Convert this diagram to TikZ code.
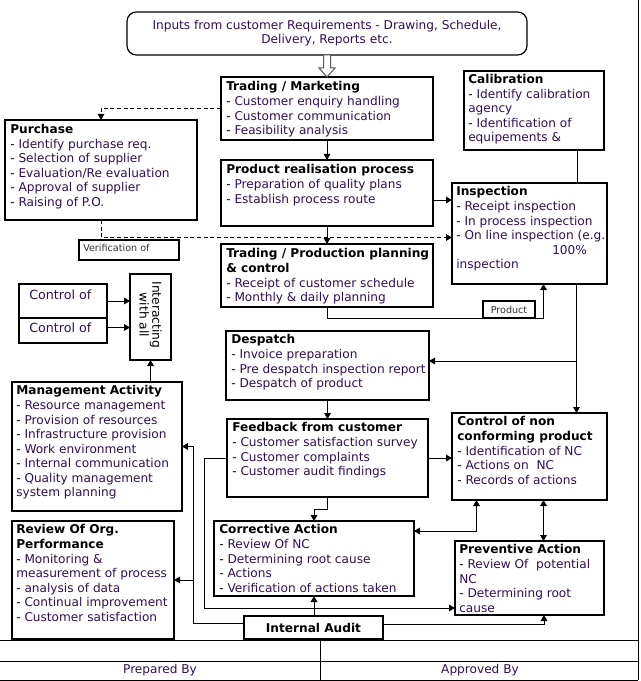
\documentclass[tikz,border=0pt]{standalone}
\usepackage{fontspec}
\setmainfont{DejaVu Sans}
\usetikzlibrary{arrows.meta,fit,calc}
\definecolor{bodytxt}{RGB}{48,16,80}
\newcommand\li[1]{- \textcolor{bodytxt}{#1}}
\newcommand\ct[1]{\textcolor{bodytxt}{#1}}
\newcommand\ttl[1]{\textbf{#1}}
\begin{document}
\begin{tikzpicture}[x=0.75pt,y=-0.75pt,
  bx/.style={draw=black,line width=0.9pt,inner sep=0pt,outer sep=0pt},
  txt/.style={inner sep=0pt,anchor=north west,align=left,font=\fontsize{9.1}{10.9}\selectfont},
  small/.style={inner sep=0pt,font=\fontsize{7.2}{8.5}\selectfont,text=black!80},
  tip/.style={-{Triangle[length=4.5pt,width=5pt]}},
  con/.style={line width=0.75pt,tip},
  dcon/.style={line width=0.75pt,{Triangle[length=4.5pt,width=5pt]}-{Triangle[length=4.5pt,width=5pt]}},
  ln/.style={line width=0.75pt},
  dsh/.style={line width=0.75pt,dash pattern=on 3pt off 2pt},
]
\useasboundingbox (0,0) rectangle (641,681);

% ---------- boxes ----------
\node[bx,rounded corners=7pt,fit={(127,12) (527,55)}] (inp) {};
\node[inner sep=0pt,align=center,text=bodytxt,font=\fontsize{9.1}{10.5}\selectfont] (inpt) at (inp.center)
  {Inputs from customer Requirements - Drawing, Schedule,\\Delivery, Reports etc.};

\node[bx,fit={(221,77) (433,140)}] (tm) {};
\node[txt] (tmt) at ($(tm.north west)+(5,4.5)$)
  {\ttl{Trading / Marketing}\\\li{Customer enquiry handling}\\\li{Customer communication}\\\li{Feasibility analysis}};

\node[bx,fit={(221,160) (433,226)}] (pr) {};
\node[txt] (prt) at ($(pr.north west)+(5,4.5)$)
  {\ttl{Product realisation process}\\\li{Preparation of quality plans}\\\li{Establish process route}};

\node[bx,fit={(221,244) (433,307)}] (tppc) {};
\node[txt] (tppct) at ($(tppc.north west)+(5,4.5)$)
  {\ttl{Trading / Production planning}\\\ttl{\& control}\\\li{Receipt of customer schedule}\\\li{Monthly \& daily planning}};

\node[bx,fit={(464,71) (604,150)}] (cal) {};
\node[txt] (calt) at ($(cal.north west)+(4,3)$)
  {\ttl{Calibration}\\\li{Identify calibration}\\\ct{agency}\\\li{Identification of}\\\ct{equipements \&}};

\node[bx,fit={(452,183) (607,284)}] (insp) {};
\node[txt] (inspt) at ($(insp.north west)+(4,3.5)$)
  {\ttl{Inspection}\\\li{Receipt inspection}\\\li{In process inspection}\\\li{On line inspection (e.g.}\\\hspace*{72pt}\ct{100\%}\\\ct{inspection}};

\node[bx,fit={(5,120) (197,220)}] (pur) {};
\node[txt] (purt) at ($(pur.north west)+(5,4)$)
  {\ttl{Purchase}\\\li{Identify purchase req.}\\\li{Selection of supplier}\\\li{Evaluation/Re evaluation}\\\li{Approval of supplier}\\\li{Raising of P.O.}};

\node[bx,fit={(79,240) (179,260)}] (ver) {};
\node[small,anchor=base west] (vert) at ($(ver.north west)+(4,11)$) {Verification of};

\node[bx,fit={(483,301) (535,318)}] (prod) {};
\node[small] (prodt) at (prod.center) {Product};

\node[bx,fit={(19,284) (107,318)}] (c1) {};
\node[bx,fit={(19,318) (107,343)}] (c2) {};
\node[inner sep=0pt,anchor=base west,text=bodytxt,font=\fontsize{9.5}{11}\selectfont] (c1t) at ($(c1.north west)+(10,15)$) {Control of};
\node[inner sep=0pt,anchor=base west,text=bodytxt,font=\fontsize{9.5}{11}\selectfont] (c2t) at ($(c2.north west)+(10,14.5)$) {Control of};

\node[bx,fit={(130,274) (171,360)}] (intr) {};
\node[inner sep=0pt,rotate=-90,align=center,font=\fontsize{9.2}{9.5}\selectfont] (intrt) at (150.5,315) {Interacting\\with all};

\node[bx,fit={(226,331) (429,400)}] (desp) {};
\node[txt] (despt) at ($(desp.north west)+(5,3.5)$)
  {\ttl{Despatch}\\\li{Invoice preparation}\\\li{Pre despatch inspection report}\\\li{Despatch of product}};

\node[bx,fit={(227,419) (428,497)}] (fb) {};
\node[txt] (fbt) at ($(fb.north west)+(5,3.5)$)
  {\ttl{Feedback from customer}\\\li{Customer satisfaction survey}\\\li{Customer complaints}\\\li{Customer audit findings}};

\node[bx,fit={(452,413) (607,500)}] (cnc) {};
\node[txt] (cnct) at ($(cnc.north west)+(5,3.5)$)
  {\ttl{Control of non}\\\ttl{conforming product}\\\li{Identification of NC}\\\li{Actions on\ \ NC}\\\li{Records of actions}};

\node[bx,fit={(12,382) (182,511)}] (mg) {};
\node[txt] (mgt) at ($(mg.north west)+(4,3.5)$)
  {\ttl{Management Activity}\\\li{Resource management}\\\li{Provision of resources}\\\li{Infrastructure provision}\\\li{Work environment}\\\li{Internal communication}\\\li{Quality management}\\\ct{system planning}};

\node[bx,fit={(12,521) (174,639)}] (rv) {};
\node[txt] (rvt) at ($(rv.north west)+(4,3.5)$)
  {\ttl{Review Of Org.}\\\ttl{Performance}\\\li{Monitoring \&}\\\ct{measurement of process}\\\li{analysis of data}\\\li{Continual improvement}\\\li{Customer satisfaction}};

\node[bx,fit={(214,521) (414,596)}] (ca) {};
\node[txt] (cat) at ($(ca.north west)+(5,3.5)$)
  {\ttl{Corrective Action}\\\li{Review Of NC}\\\li{Determining root cause}\\\li{Actions}\\\li{Verification of actions taken}};

\node[bx,fit={(455,541) (604,615)}] (pa) {};
\node[txt] (pat) at ($(pa.north west)+(4,3.5)$)
  {\ttl{Preventive Action}\\\li{Review Of\ \ potential}\\\ct{NC}\\\li{Determining root}\\\ct{cause}};

\node[bx,fit={(244,616) (383,639)}] (ia) {};
\node[inner sep=0pt,font=\fontsize{9.1}{10.9}\selectfont\bfseries] (iat) at (ia.center) {Internal Audit};

% ---------- hollow arrow ----------
\draw[draw=black!65,fill=white,line width=0.75pt,shift={(inp.south)}]
  (-3.5,0) -- (3.5,0) -- (3.5,13) -- (8,13) -- (0,22) -- (-8,13) -- (-3.5,13) -- cycle;

% ---------- connectors ----------
\draw[dsh,tip] (tm.west) -| (pur.north);
\draw[con] (tm.south) -- (pr.north);
\draw[con] (pr.south) -- (tppc.north);
\coordinate (prE) at ($(pr.east)+(0,7)$);
\draw[con] (prE) -- (prE -| insp.west);
\coordinate (inW) at ($(insp.west)+(0,4)$);
\draw[dsh,tip] (pur.south) |- (inW);
\coordinate (calB) at ($(cal.south)+(43,0)$);
\draw[ln] (calB) -- (calB |- insp.north);
\coordinate (inB) at ($(insp.south)+(14,0)$);
\draw[con] (tppc.south) -- ++(0,11) -| (inB);
\coordinate (inB2) at ($(insp.south)+(47,0)$);
\draw[con] (inB2) -- (inB2 |- cnc.north);
\coordinate (dj) at ($(desp.east)+(0,-4.5)$);
\draw[con] (inB2 |- dj) -- (dj);
\draw[con] (desp.south) -- (fb.north);
\draw[con] (fb.east) -- (fb.east -| cnc.west);
\draw[con] (fb.south) -- ++(0,12) -| (ca.north);
\coordinate (caE) at ($(ca.north east)+(0,10)$);
\coordinate (cncB) at ($(cnc.south)+(-53,0)$);
\draw[dcon] (caE) -| (cncB);
\coordinate (cncB2) at ($(cnc.south)+(14,0)$);
\draw[dcon] (cncB2) -- (cncB2 |- pa.north);
\coordinate (paL) at ($(pa.south west)+(0,-7)$);
\draw[con] (fb.west) -- ++(-22.5,0) |- (paL);
\coordinate (iaL) at ($(ia.west)+(0,-4)$);
\coordinate (vx) at ($(mg.east)+(11,0)$);
\draw[con] (iaL) -| (vx) -- (mg.east);
\draw[con] (vx |- rv.east) -- (rv.east);
\draw[con] (ia.north -| ca.south) -- (ca.south);
\coordinate (iaR) at ($(ia.east)+(0,-3)$);
\coordinate (paB) at ($(pa.south)+(14.5,0)$);
\draw[con] (iaR) -| (paB);
\draw[con] (mg.north -| intr.south) -- (intr.south);
\draw[con] (c1.east) -- (c1.east -| intr.west);
\coordinate (c2a) at ($(c2.east)+(0,-3)$);
\draw[con] (c2a) -- (c2a -| intr.west);

% ---------- frame and signature table ----------
\draw[ln] (638,0) -- (638,680);
\draw[ln] (0,640) -- (638,640);
\draw[ln] (0,661) -- (638,661);
\draw[ln] (0,680) -- (638,680);
\draw[ln] (320,640) -- (320,680);
\node[inner sep=0pt,text=bodytxt,font=\fontsize{9.1}{10.9}\selectfont] (prep) at (160,670.5) {Prepared By};
\node[inner sep=0pt,text=bodytxt,font=\fontsize{9.1}{10.9}\selectfont] (appr) at (480,670.5) {Approved By};
\end{tikzpicture}
\end{document}
